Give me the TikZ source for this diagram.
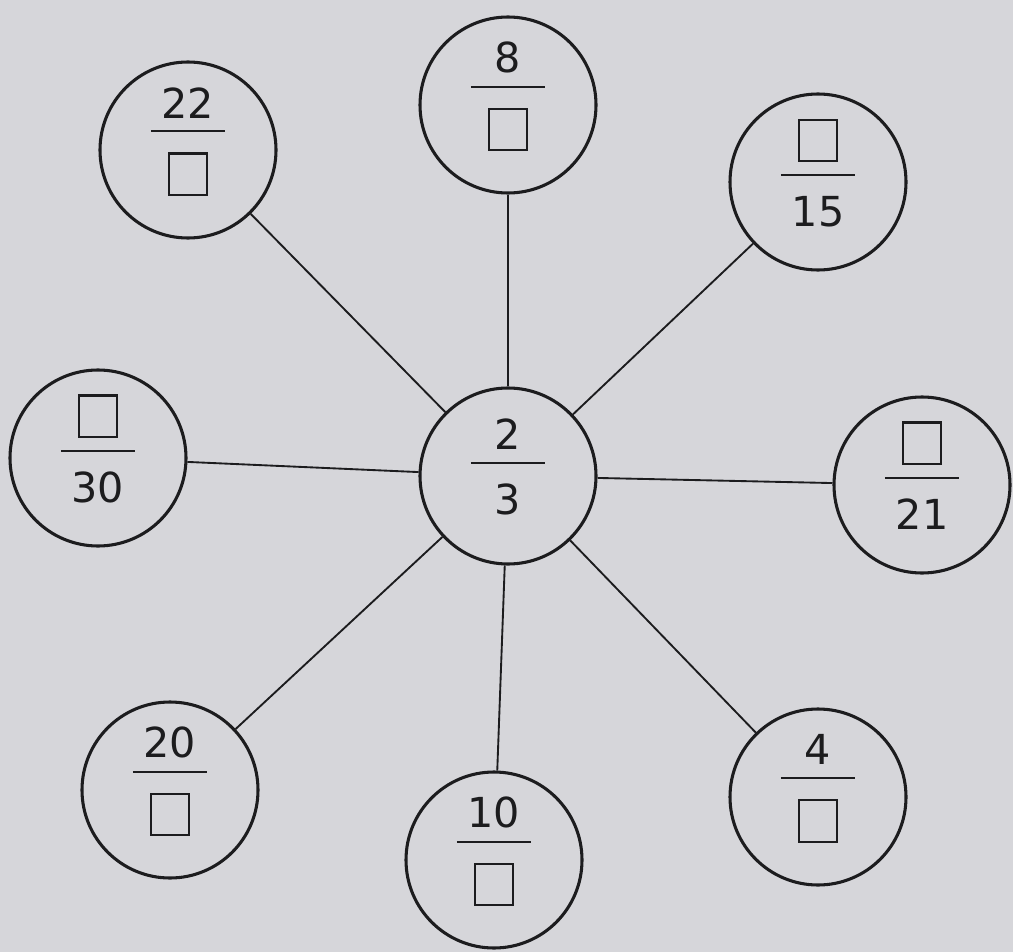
\documentclass[tikz,border=0pt]{standalone}
\usepackage{fontspec}
\setmainfont{DejaVu Sans}
\definecolor{paper}{RGB}{214,214,218}
\definecolor{ink}{RGB}{28,28,30}
\newcommand\bx{{\setlength{\fboxsep}{0pt}\setlength{\fboxrule}{1.6pt}\fbox{\rule{0pt}{0.95em}\hspace{0.85em}}}}
\newcommand\fr[2]{\raisebox{14pt}{\vbox{\offinterlineskip\halign{\hfil##\hfil\cr #1\cr\noalign{\kern9pt}\rule{1.8em}{1.6pt}\cr\noalign{\kern15pt}#2\cr}}}}
\begin{document}
\begin{tikzpicture}[x=0.75pt,y=-0.75pt,
  disc/.style={draw=ink,line width=2.3pt,circle,minimum size=132pt,inner sep=0pt,
    text=ink,font=\fontsize{31}{36}\selectfont},
  link/.style={draw=ink,line width=1.4pt}]
\fill[paper] (0,0) rectangle (1013,952);
\useasboundingbox (0,0) rectangle (1013,952);
\node[disc] (c)  at (508,476) {\fr{2}{3}};
\node[disc] (t)  at (508,105) {\fr{8}{\bx}};
\node[disc] (tl) at (188,150) {\fr{22}{\bx}};
\node[disc] (tr) at (818,182) {\fr{\bx}{15}};
\node[disc] (l)  at (98,458)  {\fr{\bx}{30}};
\node[disc] (r)  at (922,485) {\fr{\bx}{21}};
\node[disc] (bl) at (170,790) {\fr{20}{\bx}};
\node[disc] (b)  at (494,860) {\fr{10}{\bx}};
\node[disc] (br) at (818,797) {\fr{4}{\bx}};
\foreach \n in {t,tl,tr,l,r,bl,b,br}{\draw[link] (c) -- (\n);}
\end{tikzpicture}
\end{document}
